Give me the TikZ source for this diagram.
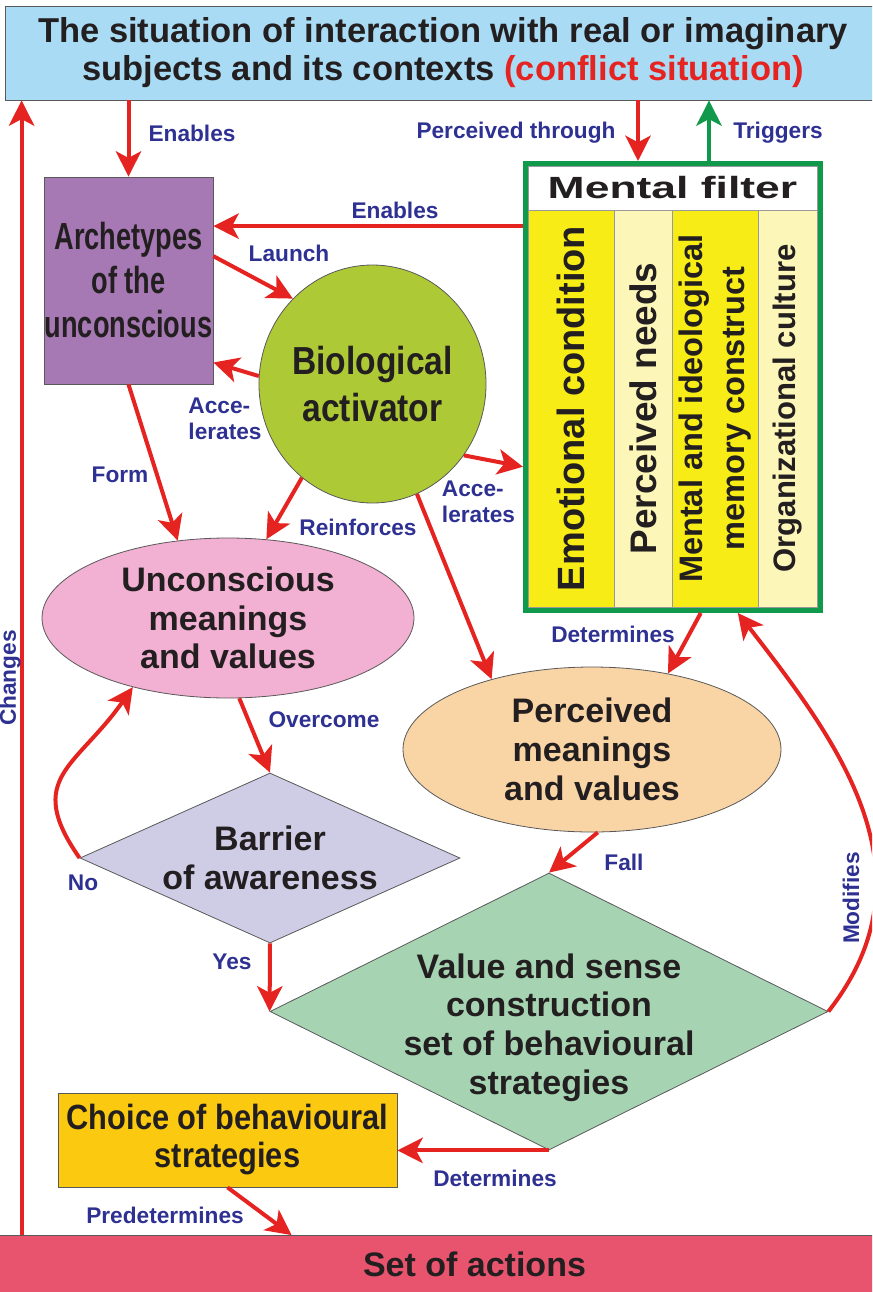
\documentclass[tikz,border=0pt]{standalone}
\usepackage{fontspec}
\setmainfont{Liberation Sans}
\newfontfamily\archfont[FakeStretch=0.72]{Liberation Sans}
\newfontfamily\biofont[FakeStretch=0.86]{Liberation Sans}
\newfontfamily\choicefont[FakeStretch=0.88]{Liberation Sans}
\newfontfamily\headfont[FakeStretch=1.45]{Liberation Sans}
\usetikzlibrary{arrows.meta,calc,positioning,shapes.geometric}

\definecolor{lucht}{HTML}{A9DCF4}
\definecolor{paars}{HTML}{A678B4}
\definecolor{appel}{HTML}{AEC936}
\definecolor{roze}{HTML}{F2B0D2}
\definecolor{lila}{HTML}{CFCCE6}
\definecolor{perzik}{HTML}{F9D4A5}
\definecolor{mint}{HTML}{A6D4B2}
\definecolor{goud}{HTML}{FBC90F}
\definecolor{framboos}{HTML}{E8546E}
\definecolor{geel}{HTML}{F8EC17}
\definecolor{bleek}{HTML}{FCF6B9}
\definecolor{groen}{HTML}{10994A}
\definecolor{rood}{HTML}{E52421}
\definecolor{navy}{HTML}{2E3192}
\definecolor{inkt}{HTML}{231F20}

\begin{document}
\begin{tikzpicture}[x=0.75pt,y=0.75pt]
\tikzstyle{blok} = [draw=black!65, line width=0.6pt, inner sep=0pt, align=center, text=inkt]
\tikzstyle{groot} = [font=\bfseries\fontsize{25.5}{29}\selectfont]
\tikzstyle{kolom} = [draw=black!40, line width=0.5pt, rotate=90, minimum width=297.75pt, inner sep=0pt, align=center, text=inkt]
\tikzstyle{lbl} = [text=navy, font=\bfseries\fontsize{17}{19.5}\selectfont, inner sep=0pt, align=left]
\tikzstyle{pijl} = [draw=rood, line width=3pt, -{Stealth[length=19pt,width=19pt,inset=5pt]}]

\useasboundingbox (0,0) rectangle (872,-1292);
\clip (0,0) rectangle (872,-1292);

% situation on top, actions at the bottom
\node [blok, fill=lucht, minimum width=657pt, minimum height=70.5pt,
  font=\bfseries\fontsize{25.9}{28.5}\selectfont] (sit) at (443,-53)
  {The situation of interaction with real or imaginary\\
   subjects and its contexts \textcolor{rood}{(conflict situation)}};
\node [blok, fill=framboos, minimum width=804.75pt, minimum height=42.75pt, groot] (act) at (474.5,-1264) {Set of actions};

\node [blok, fill=paars, minimum width=126.75pt, minimum height=155.25pt,
  font=\archfont\bfseries\fontsize{28.3}{33}\selectfont] (arch) at (128.5,-280.5) {Archetypes\\of the\\unconscious};
\node [blok, ellipse, fill=appel, minimum width=168.75pt, minimum height=178.5pt,
  font=\biofont\bfseries\fontsize{29.3}{35}\selectfont] (bio) at (372.5,-384) {Biological\\activator};

% mental filter
\node [draw=groen, line width=3.75pt, minimum width=221.25pt, minimum height=335.25pt] (filter) at (673,-387) {};
\node [draw=black!40, line width=0.5pt, fill=white, minimum width=216.75pt, minimum height=33pt, inner sep=0pt,
  font=\headfont\bfseries\fontsize{23}{26}\selectfont, text=inkt] (fhead) at (672.5,-188) {Mental filter};
\node [kolom, fill=geel, minimum height=64.5pt, font=\bfseries\fontsize{28.5}{32}\selectfont] (emo) at (571,-408.5) {Emotional condition};
\node [kolom, fill=bleek, minimum height=43.5pt, font=\bfseries\fontsize{27.7}{32}\selectfont] (need) at (643,-408.5) {Perceived needs};
\node [kolom, fill=geel, minimum height=64.5pt, font=\bfseries\fontsize{24.4}{32}\selectfont] (mem) at (715,-408.5) {Mental and ideological\\memory construct};
\node [kolom, fill=bleek, minimum height=44.25pt, font=\bfseries\fontsize{23.3}{28}\selectfont] (org) at (787.5,-408.5) {Organizational culture};

\node [blok, ellipse, fill=roze, minimum width=279pt, minimum height=120pt, groot] (unc) at (228,-618) {Unconscious\\meanings\\and values};
\node [blok, ellipse, fill=perzik, minimum width=283.5pt, minimum height=123.75pt, groot] (per) at (592,-749.5) {Perceived\\meanings\\and values};
\node [blok, diamond, fill=lila, minimum width=285pt, minimum height=127.5pt,
  label={[groot, align=center, text=inkt]center:Barrier\\of awareness}] (bar) at (270,-858) {};
\node [blok, diamond, fill=mint, minimum width=418.5pt, minimum height=207.75pt,
  label={[groot, align=center, text=inkt, yshift=-12pt]center:Value and sense\\construction\\set of behavioural\\strategies}] (val) at (549,-1011.5) {};
\node [blok, fill=goud, minimum width=254.25pt, minimum height=70.5pt,
  font=\choicefont\bfseries\fontsize{26.25}{28.5}\selectfont] (choice) at (227.5,-1140) {Choice of behavioural\\strategies};

% connectors
\coordinate (pin) at ($(filter.north)+(-35,0)$);
\coordinate (pout) at ($(filter.north)+(36,0)$);
\coordinate (chg) at ($(act.north west)+(84,0)$);
\draw [pijl] (sit.south -| arch.north) -- (arch.north);
\draw [pijl] (pin |- sit.south) -- (pin);
\draw [pijl, draw=groen] (pout) -- (pout |- sit.south);
\draw [pijl] (filter.133) -- (filter.133 -| arch.east);
\draw [pijl] (arch.16) -- (bio.133);
\draw [pijl] (bio.176) -- (arch.-44);
\draw [pijl] (arch.south) -- (unc.123);
\draw [pijl] (bio.233) -- (unc.64);
\draw [pijl] (bio.-38) -- (filter.208);
\draw [pijl] (bio.-68) -- (per.145);
\draw [pijl] (filter.-83) -- (per.45);
\draw [pijl] (unc.-82) -- (bar.north);
\draw [pijl] (bar.west) to[out=125,in=235,looseness=1.4] (unc.216);
\draw [pijl] (bar.south) -- (val.west);
\draw [pijl] (per.-86) -- (val.north);
\draw [pijl] (val.east) to[out=52,in=-52,looseness=1.08] (filter.-74.5);
\draw [pijl] (val.south) -- (val.south -| choice.east);
\draw [pijl] (choice.south) -- ($(act.north west)+(354,0)$);
\draw [pijl] (chg) -- (chg |- sit.south);

% labels
\node [lbl] (l1) at (192,-133) {Enables};
\node [lbl] (l2) at (516,-133) {Perceived through};
\node [lbl] (l3) at (778,-133) {Triggers};
\node [lbl] (l4) at (395,-210) {Enables};
\node [lbl] (l5) at (289,-253) {Launch};
\node [lbl] (l6) at (225,-419) {Acce-\\lerates};
\node [lbl] (l7) at (120,-475) {Form};
\node [lbl] (l8) at (358,-527) {Reinforces};
\node [lbl] (l9) at (478.5,-502) {Acce-\\lerates};
\node [lbl] (l10) at (613,-634) {Determines};
\node [lbl] (l11) at (324,-720) {Overcome};
\node [lbl] (l12) at (83,-883) {No};
\node [lbl] (l13) at (232,-962) {Yes};
\node [lbl] (l14) at (624,-862) {Fall};
\node [lbl, rotate=90] (l15) at (851,-898) {Modifies};
\node [lbl] (l16) at (495,-1178) {Determines};
\node [lbl] (l17) at (165,-1215) {Predetermines};
\node [lbl, rotate=90] (l18) at (10,-678) {Changes};
\end{tikzpicture}
\end{document}
